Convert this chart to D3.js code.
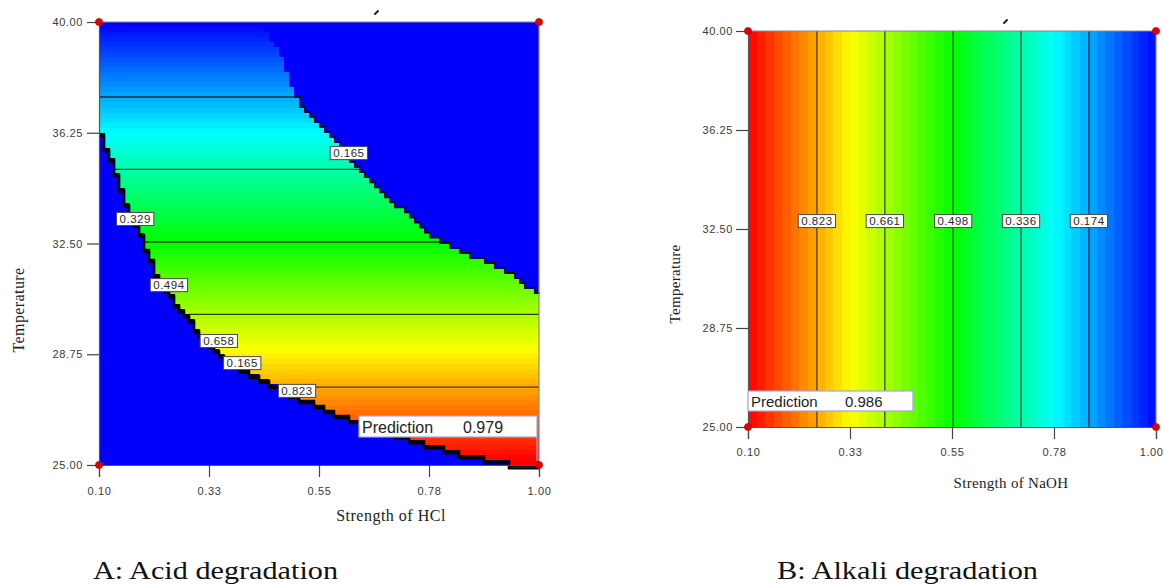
<!DOCTYPE html>
<html>
<head>
<meta charset="utf-8">
<script src="https://cdn.jsdelivr.net/npm/d3@7"></script>
<style>
  body { margin: 0; background: #fff; }
  svg { display: block; }
</style>
</head>
<body>
<svg id="chart" width="1164" height="585"></svg>
<script>
// ---------------- data ----------------
const strengthDomain = [0.1, 1.0];
const tempDomain = [25, 40];
const strengthTicks = [0.1, 0.325, 0.55, 0.775, 1.0];
const strengthTickLabels = ["0.10", "0.33", "0.55", "0.78", "1.00"];
const tempTicks = [25, 28.75, 32.5, 36.25, 40];
const tempTickLabels = ["25.00", "28.75", "32.50", "36.25", "40.00"];
const designPoints = [[0.1, 40], [0.1, 25], [1.0, 25], [1.0, 40]];

// Acid degradation: response falls with temperature inside the feasible region
const acidLevels = [0.165, 0.329, 0.494, 0.658, 0.823];
const acidModelTemps = [37.46, 27.64];      // temperatures of the first / last contour
const acidModelValues = [0.165, 0.823];
const acidRange = [0.0, 0.987];
const acidPrediction = { strength: 1.0, temperature: 25, value: "0.979" };
// edge of the feasible region, upper-right side [strength, temperature]
const acidUpperEdge = [
  [0.433, 40.00], [0.446, 39.56], [0.462, 39.15], [0.476, 38.71], [0.487, 38.21],
  [0.501, 37.46], [0.538, 36.68], [0.566, 36.24], [0.599, 35.56], [0.624, 35.02],
  [0.695, 33.97], [0.763, 32.96], [0.797, 32.52], [0.832, 32.28], [0.879, 31.94],
  [0.941, 31.43], [0.978, 30.93], [1.000, 30.82]
];
// edge of the feasible region, lower-left side [strength, temperature]
const acidLowerEdge = [
  [0.100, 36.51], [0.118, 35.67], [0.133, 34.99], [0.153, 33.97], [0.174, 33.30],
  [0.194, 32.52], [0.219, 31.50], [0.255, 30.59], [0.280, 30.08], [0.303, 29.57],
  [0.343, 28.89], [0.372, 28.45], [0.388, 28.28], [0.450, 27.78], [0.505, 27.37],
  [0.573, 26.86], [0.654, 26.35], [0.750, 25.85], [0.832, 25.44], [0.914, 25.17],
  [0.967, 25.00], [1.000, 24.95]
];
const acidLabelText = ["0.165", "0.329", "0.494", "0.658", "0.165", "0.823"];
const acidLabelStrength = [0.611, 0.174, 0.243, 0.345, 0.393, 0.505];
const acidLabelTemp = [35.56, 33.33, 31.09, 29.20, 28.45, 27.51];

// Alkali degradation: response falls with NaOH strength, flat in temperature
const alkaliLevels = [0.823, 0.661, 0.498, 0.336, 0.174];
const alkaliModelStrengths = [0.252, 0.852];
const alkaliModelValues = [0.823, 0.174];
const alkaliRange = [0.012, 0.986];
const alkaliPrediction = { strength: 0.1, temperature: 25, value: "0.986" };
const alkaliLabelTemp = 32.8;

// ---------------- drawing ----------------
const svg = d3.select("#chart");
const jet = d3.scaleLinear()
  .domain([0, 0.25, 0.5, 0.75, 1])
  .range(["#0000ff", "#00ffff", "#00ff00", "#ffff00", "#ff0000"])
  .interpolate(d3.interpolateRgb)
  .clamp(true);

function makeScales(x0, x1, y0, y1) {
  return {
    x: d3.scaleLinear().domain(strengthDomain).range([x0, x1]),
    y: d3.scaleLinear().domain(tempDomain).range([y1, y0])
  };
}
const A = makeScales(99, 539, 22, 465);
const B = makeScales(748, 1156, 31, 427);

const tickFont = "'Liberation Sans', Arial, sans-serif";
const serifFont = "'Liberation Serif', 'Times New Roman', serif";

function drawAxes(g, sc, yPad, xPad) {
  const ax = g.append("g")
    .attr("transform", `translate(0,${sc.y(25)})`)
    .call(d3.axisBottom(sc.x).tickValues(strengthTicks)
      .tickFormat((d, i) => strengthTickLabels[i]).tickSize(12).tickPadding(xPad));
  const ay = g.append("g")
    .attr("transform", `translate(${sc.x(0.1)},0)`)
    .call(d3.axisLeft(sc.y).tickValues(tempTicks)
      .tickFormat((d, i) => tempTickLabels[i]).tickSize(12).tickPadding(yPad));
  [ax, ay].forEach(a => {
    a.select(".domain").attr("stroke", "#555").attr("stroke-width", 1.2);
    a.selectAll(".tick line").attr("stroke", "#444").attr("stroke-width", 1.2);
    a.selectAll(".tick text").attr("fill", "#3a3a3a")
      .style("font-family", tickFont).style("font-size", "11px")
      .style("letter-spacing", "0.6px");
  });
  // grey frame on the top and right
  g.append("path")
    .attr("d", `M${sc.x(0.1)},${sc.y(40)}H${sc.x(1)}V${sc.y(25)}`)
    .attr("fill", "none").attr("stroke", "#8a8a8a").attr("stroke-width", 1.2);
  return ax;
}

function drawDesignPoints(g, sc) {
  g.selectAll("circle.dp").data(designPoints).join("circle")
    .attr("class", "dp")
    .attr("cx", d => sc.x(d[0])).attr("cy", d => sc.y(d[1]))
    .attr("r", 3.6).attr("fill", "#e50000").attr("stroke", "#b00000").attr("stroke-width", 0.6);
}

function contourLabel(g, x, y, text) {
  const lg = g.append("g").attr("transform", `translate(${x},${y})`);
  const t = lg.append("text").text(text)
    .attr("text-anchor", "middle").attr("dy", "0.36em")
    .style("font-family", tickFont).style("font-size", "11.5px")
    .style("letter-spacing", "0.5px").attr("fill", "#2a2a2a");
  const w = t.node().getComputedTextLength() + 6;
  lg.insert("rect", "text")
    .attr("x", -w / 2).attr("y", -6.5).attr("width", w).attr("height", 13)
    .attr("fill", "#fff").attr("stroke", "#4a4a4a").attr("stroke-width", 1);
}

function predictionBox(g, x, y, w, h, value, fs, valueOffset) {
  g.append("rect").attr("x", x).attr("y", y).attr("width", w).attr("height", h)
    .attr("fill", "#fff").attr("stroke", "#a4a4e0").attr("stroke-width", 1.2);
  g.append("text").attr("x", x + 3).attr("y", y + h - 4.5).text("Prediction")
    .style("font-family", tickFont).style("font-size", fs + "px").attr("fill", "#222");
  g.append("text").attr("x", x + valueOffset).attr("y", y + h - 4.5).text(value)
    .style("font-family", tickFont).style("font-size", fs + "px").attr("fill", "#222");
}

// ---------- Panel A: acid degradation ----------
const gA = svg.append("g");
const nx = 88, ny = 88;
const ds = (strengthDomain[1] - strengthDomain[0]) / nx;
const dT = (tempDomain[1] - tempDomain[0]) / ny;
const acidValue = d3.scaleLinear().domain(acidModelTemps).range(acidModelValues);
const acidColour = d3.scaleLinear().domain(acidRange).range([0, 1]).clamp(true);
const lowerT = d3.scaleLinear().domain(acidLowerEdge.map(d => d[0]))
  .range(acidLowerEdge.map(d => d[1])).clamp(true);
const upperScale = d3.scaleLinear().domain(acidUpperEdge.map(d => d[0]))
  .range(acidUpperEdge.map(d => d[1])).clamp(true);
const upperT = s => (s < acidUpperEdge[0][0] ? 41 : upperScale(s));
const cellS = i => strengthDomain[0] + i * ds;
const cellT = j => tempDomain[0] + j * dT;
const inside = (i, j) => {
  const s = cellS(i + 0.5), T = cellT(j + 0.5);
  return T > lowerT(s) && T < upperT(s);
};

// out-of-region background
gA.append("rect")
  .attr("x", A.x(0.1)).attr("y", A.y(40))
  .attr("width", A.x(1) - A.x(0.1)).attr("height", A.y(25) - A.y(40))
  .attr("fill", "#0000fb");

// feasible rows, each a single colour band
const rows = [];
for (let j = 0; j < ny; j++) {
  let iMin = -1, iMax = -1;
  for (let i = 0; i < nx; i++) {
    if (inside(i, j)) { if (iMin < 0) iMin = i; iMax = i; }
  }
  if (iMin >= 0) rows.push({ j, iMin, iMax });
}
gA.append("g").attr("shape-rendering", "crispEdges")
  .selectAll("rect").data(rows).join("rect")
  .attr("x", d => A.x(cellS(d.iMin)))
  .attr("width", d => A.x(cellS(d.iMax + 1)) - A.x(cellS(d.iMin)))
  .attr("y", d => A.y(cellT(d.j + 1)))
  .attr("height", d => A.y(cellT(d.j)) - A.y(cellT(d.j + 1)))
  .attr("fill", d => jet(acidColour(acidValue(cellT(d.j + 0.5)))));

// contour lines (horizontal, across the feasible part of each row)
const acidLines = acidLevels.map(v => {
  const T = acidValue.invert(v);
  const j = Math.floor((T - tempDomain[0]) / dT);
  const r = rows.find(d => d.j === j);
  return { T, x0: A.x(cellS(r.iMin)), x1: A.x(cellS(r.iMax + 1)) };
});
gA.selectAll("line.cl").data(acidLines).join("line")
  .attr("class", "cl")
  .attr("x1", d => d.x0).attr("x2", d => d.x1)
  .attr("y1", d => A.y(d.T)).attr("y2", d => A.y(d.T))
  .attr("stroke", "#141414").attr("stroke-opacity", 0.8).attr("stroke-width", 1.3);

// stepped region edges
const lowerPts = [];
for (let i = 0; i < nx; i++) {
  let jl = 0;
  while (jl < ny && !inside(i, jl)) jl++;
  lowerPts.push([A.x(cellS(i)), A.y(cellT(jl))]);
}
lowerPts.push([A.x(1), lowerPts[lowerPts.length - 1][1]]);
// the upper edge is only outlined below the first contour
const upperLimitY = A.y(acidValue.invert(acidLevels[0]));
const upperPts = [];
for (let i = 0; i < nx; i++) {
  let jh = ny - 1;
  while (jh >= 0 && !inside(i, jh)) jh--;
  const yEdge = A.y(cellT(jh + 1));
  if (jh < ny - 1 && yEdge >= upperLimitY - 1) {
    upperPts.push([A.x(cellS(i)), yEdge]);
  }
}
upperPts.push([A.x(1), upperPts[upperPts.length - 1][1]]);
const stepLine = d3.line().curve(d3.curveStepAfter);
[1.4, 3.4].forEach(off => {
  gA.append("path").attr("d", stepLine(lowerPts))
    .attr("transform", `translate(0,${off})`)
    .attr("fill", "none").attr("stroke", "#050505").attr("stroke-width", 2.4);
});
gA.append("path").attr("d", stepLine(upperPts))
  .attr("transform", "translate(0.8,-0.8)")
  .attr("fill", "none").attr("stroke", "#101010").attr("stroke-width", 1.7);

drawAxes(gA, A, 4, 10);

acidLabelText.forEach((t, k) =>
  contourLabel(gA, A.x(acidLabelStrength[k]), A.y(acidLabelTemp[k]), t));

// prediction flag at the design corner
{
  const px = A.x(acidPrediction.strength), py = A.y(acidPrediction.temperature);
  gA.append("line").attr("x1", px - 2).attr("x2", px - 2).attr("y1", py - 28).attr("y2", py - 4)
    .attr("stroke", "#a4a4e0").attr("stroke-width", 1.2);
  predictionBox(gA, px - 180, py - 49, 178, 21, acidPrediction.value, 16, 104);
}
drawDesignPoints(gA, A);

gA.append("path").attr("d", `M${A.x(0.1) + 276},${A.y(40) - 8} l3,-3`)
  .attr("stroke", "#222").attr("stroke-width", 2).attr("stroke-linecap", "round");

gA.append("text").attr("x", 391).attr("y", 521).attr("text-anchor", "middle")
  .text("Strength of HCl")
  .style("font-family", serifFont).style("font-size", "16px").style("letter-spacing", "0.5px")
  .attr("fill", "#222");
gA.append("text").attr("transform", "translate(24,310) rotate(-90)").attr("text-anchor", "middle")
  .text("Temperature")
  .style("font-family", serifFont).style("font-size", "16px").style("letter-spacing", "0.4px")
  .attr("fill", "#222");

// ---------- Panel B: alkali degradation ----------
const gB = svg.append("g");
const alkaliValue = d3.scaleLinear().domain(alkaliModelStrengths).range(alkaliModelValues);
const alkaliColour = d3.scaleLinear().domain(alkaliRange).range([0, 1]).clamp(true);
const nb = 48;
const bandW = (strengthDomain[1] - strengthDomain[0]) / nb;
gB.append("g").attr("shape-rendering", "crispEdges")
  .selectAll("rect").data(d3.range(nb)).join("rect")
  .attr("x", b => B.x(0.1 + b * bandW))
  .attr("width", b => B.x(0.1 + (b + 1) * bandW) - B.x(0.1 + b * bandW))
  .attr("y", B.y(40)).attr("height", B.y(25) - B.y(40))
  .attr("fill", b => jet(alkaliColour(alkaliValue(0.1 + (b + 0.5) * bandW))));

gB.selectAll("line.cl").data(alkaliLevels).join("line")
  .attr("class", "cl")
  .attr("x1", v => B.x(alkaliValue.invert(v))).attr("x2", v => B.x(alkaliValue.invert(v)))
  .attr("y1", B.y(40)).attr("y2", B.y(25))
  .attr("stroke", "#141414").attr("stroke-opacity", 0.7).attr("stroke-width", 1.4);

const axB = drawAxes(gB, B, 3, 9);
// keep the last strength label inside the page
axB.selectAll(".tick text").filter((d, i) => i === strengthTicks.length - 1)
  .attr("text-anchor", "end").attr("x", 7);

alkaliLevels.forEach(v =>
  contourLabel(gB, B.x(alkaliValue.invert(v)), B.y(alkaliLabelTemp), v.toFixed(3)));

{
  const px = B.x(alkaliPrediction.strength), py = B.y(alkaliPrediction.temperature);
  predictionBox(gB, px, py - 36, 165, 20, alkaliPrediction.value, 15, 97);
}
drawDesignPoints(gB, B);

gB.append("path").attr("d", `M${B.x(0.1) + 256},${B.y(40) - 8} l3,-3`)
  .attr("stroke", "#222").attr("stroke-width", 2).attr("stroke-linecap", "round");

gB.append("text").attr("x", 1011).attr("y", 488).attr("text-anchor", "middle")
  .text("Strength of NaOH")
  .style("font-family", serifFont).style("font-size", "15px").style("letter-spacing", "0.3px")
  .attr("fill", "#222");
gB.append("text").attr("transform", "translate(680,284) rotate(-90)").attr("text-anchor", "middle")
  .text("Temperature")
  .style("font-family", serifFont).style("font-size", "15px").style("letter-spacing", "0.3px")
  .attr("fill", "#222");

// ---------- captions ----------
svg.append("text").attr("x", 93).attr("y", 578.5).text("A: Acid degradation")
  .attr("textLength", 245).attr("lengthAdjust", "spacingAndGlyphs")
  .style("font-family", serifFont).style("font-size", "26px").attr("fill", "#111");
svg.append("text").attr("x", 777).attr("y", 578.5).text("B: Alkali degradation")
  .attr("textLength", 261).attr("lengthAdjust", "spacingAndGlyphs")
  .style("font-family", serifFont).style("font-size", "26px").attr("fill", "#111");
</script>
</body>
</html>
